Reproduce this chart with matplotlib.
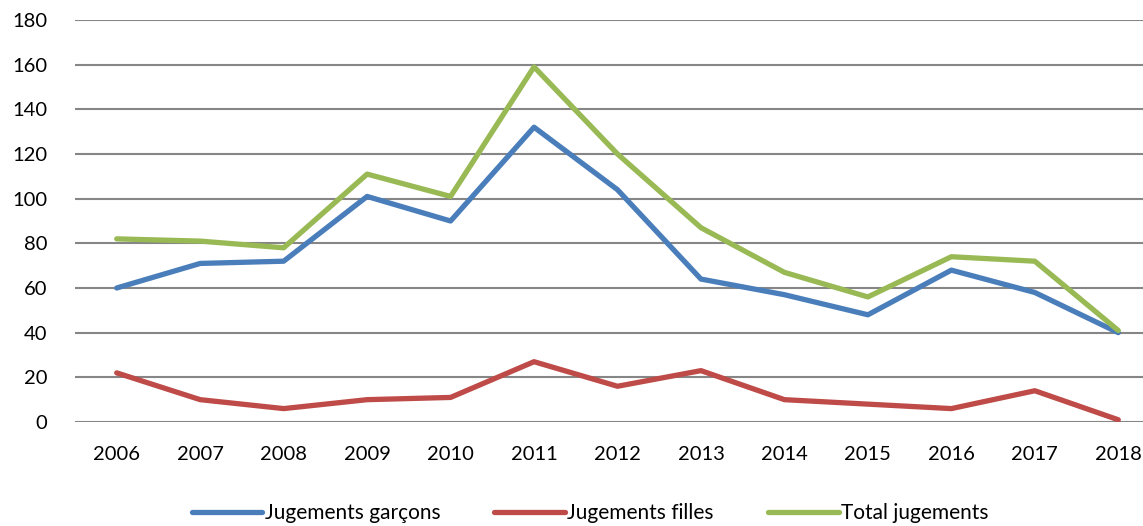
import matplotlib
matplotlib.use("Agg")
from matplotlib import pyplot as plt

plt.rcParams['font.family'] = ['Liberation Sans Narrow', 'Lato', 'DejaVu Sans']

years = [2006, 2007, 2008, 2009, 2010, 2011, 2012, 2013, 2014, 2015, 2016, 2017, 2018]
garcons = [60, 71, 72, 101, 90, 132, 104, 64, 57, 48, 68, 58, 40]
filles = [22, 10, 6, 10, 11, 27, 16, 23, 10, 8, 6, 14, 1]
total = [82, 81, 78, 111, 101, 159, 120, 87, 67, 56, 74, 72, 41]
y_ticks = list(range(0, 181, 20))

fig = plt.figure(figsize=(11.43, 5.26), dpi=100)
ax = fig.add_axes([75 / 1143, 104 / 526, 1085 / 1143, 402 / 526])

x = range(len(years))
ax.plot(x, garcons, color="#4A7EBB", lw=3.8, label="Jugements garçons", solid_capstyle="round")
ax.plot(x, filles, color="#BE4B48", lw=3.8, label="Jugements filles", solid_capstyle="round")
ax.plot(x, total, color="#98B954", lw=3.8, label="Total jugements", solid_capstyle="round")

ax.set_xlim(-0.5, len(years) - 0.5)
ax.set_ylim(0, 180)
ax.set_yticks(y_ticks)
ax.set_xticks(list(x))
ax.set_xticklabels([str(y) for y in years])
ax.grid(axis="y", color="#868686", lw=1.5)
ax.set_axisbelow(True)
for s in ax.spines.values():
    s.set_visible(False)
ax.tick_params(axis="both", length=0, labelsize=14.5, colors="black")
ax.tick_params(axis="y", pad=20)
ax.tick_params(axis="x", pad=17)

fig.legend(loc="center", bbox_to_anchor=(590 / 1143, 13 / 526), ncol=3, frameon=False,
           fontsize=15, handlelength=3.4, handletextpad=0.1, columnspacing=2.6)

fig.savefig("out.png", dpi=100)
